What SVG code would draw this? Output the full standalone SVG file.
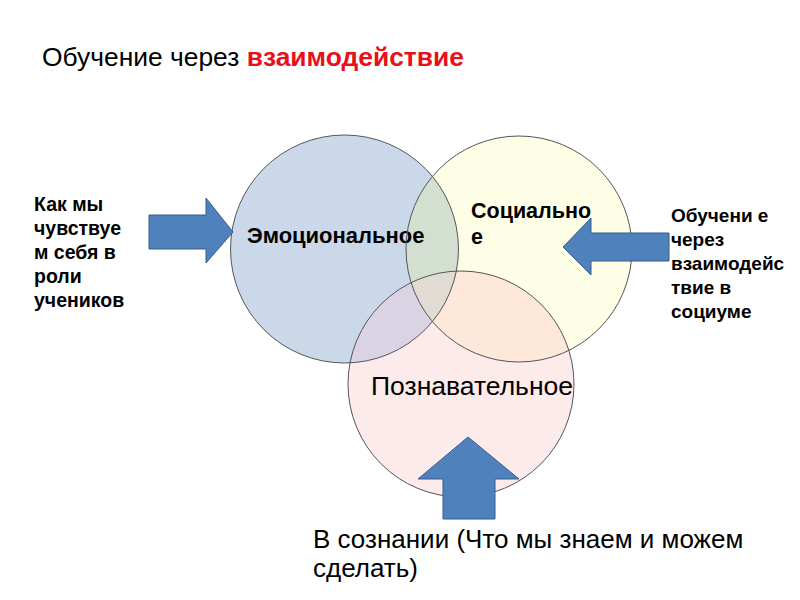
<svg xmlns="http://www.w3.org/2000/svg" width="800" height="600" viewBox="0 0 800 600">
<style>
text{font-family:"Liberation Sans",Arial,sans-serif;fill:#000}
.side{font-size:19.5px;font-weight:bold}
.side-r{font-size:19px;font-weight:bold}
.outline{fill:none;stroke:#555;stroke-width:1}
.arrow{fill:#4f81bd;stroke:#385d8a;stroke-width:1}
</style>
<defs>
<clipPath id="cA"><circle cx="344.5" cy="249" r="114"/></clipPath>
<clipPath id="cB"><circle cx="519" cy="249" r="113"/></clipPath>
</defs>
<rect width="800" height="600" fill="#fff"/>
<text x="42" y="66" font-size="26.4">Обучение через <tspan font-weight="bold" style="fill:#e8101a">взаимодействие</tspan></text>
<g id="fills">
<circle cx="344.5" cy="249" r="114" fill="#cbd8ea"/>
<circle cx="519" cy="249" r="113" fill="#fefee6"/>
<circle cx="461" cy="384" r="113" fill="#fdeaea"/>
<circle cx="519" cy="249" r="113" fill="#d3dfd0" clip-path="url(#cA)"/>
<circle cx="461" cy="384" r="113" fill="#d9d3e3" clip-path="url(#cA)"/>
<circle cx="461" cy="384" r="113" fill="#fde8d9" clip-path="url(#cB)"/>
<g clip-path="url(#cB)"><circle cx="461" cy="384" r="113" fill="#e0dcd3" clip-path="url(#cA)"/></g>
</g>
<g id="emotional">
<circle class="outline" cx="344.5" cy="249" r="114"/>
<text x="247" y="243" font-size="22" font-weight="bold">Эмоциональное</text>
</g>
<g id="social">
<circle class="outline" cx="519" cy="249" r="113"/>
<text x="471" y="218" font-size="21.5" font-weight="bold">Социально</text>
<text x="471" y="244" font-size="21.5" font-weight="bold">е</text>
</g>
<g id="cognitive">
<circle class="outline" cx="461" cy="384" r="113"/>
<text x="371" y="395" font-size="26.5">Познавательное</text>
</g>
<g id="connectors">
<polygon class="arrow" points="149,215 206,215 206,198 233,232 206,263 206,249 149,249"/>
<polygon class="arrow" points="669,233 591,233 591,218 563,247 591,275 591,261 669,261"/>
<polygon class="arrow" points="443,519 443,479 418,479 468,437 519,479 495,479 495,519"/>
</g>
<g id="label-left">
<text class="side" x="34" y="211">Как мы</text>
<text class="side" x="34" y="235">чувствуе</text>
<text class="side" x="34" y="259">м себя в</text>
<text class="side" x="34" y="283">роли</text>
<text class="side" x="34" y="307">учеников</text>
</g>
<g id="label-right">
<text class="side-r" x="671" y="222">Обучени е</text>
<text class="side-r" x="671" y="246">через</text>
<text class="side-r" x="671" y="270">взаимодейс</text>
<text class="side-r" x="671" y="294">твие в</text>
<text class="side-r" x="671" y="318">социуме</text>
</g>
<g id="label-bottom">
<text x="313" y="548" font-size="26">В сознании (Что мы знаем и можем</text>
<text x="313" y="577" font-size="26">сделать)</text>
</g>
</svg>
